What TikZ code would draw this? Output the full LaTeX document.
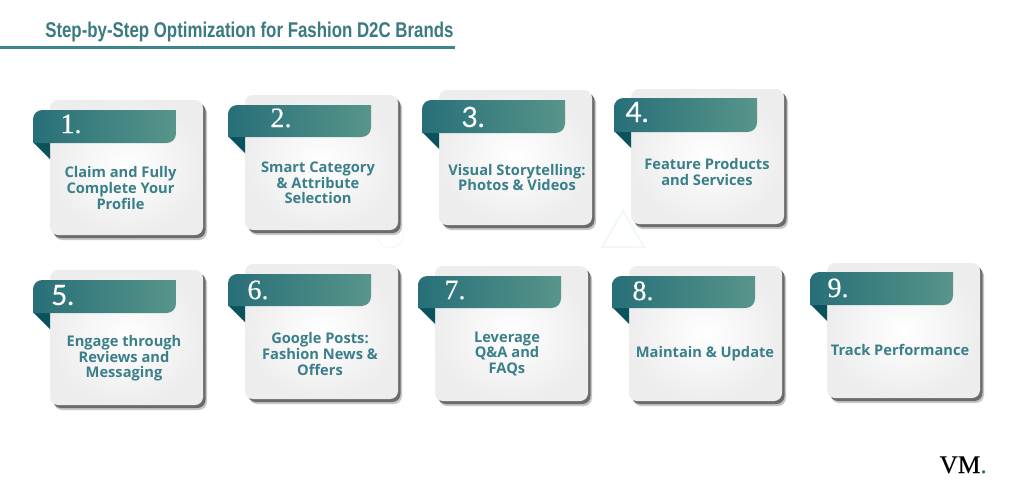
\documentclass[tikz,border=0pt]{standalone}
\usepackage{fontspec}
\setmainfont{Open Sans}
\newfontfamily\titlefont[FakeStretch=0.79]{Liberation Sans}
\newfontfamily\numfont[FakeBold=0.25]{Liberation Serif}
\newfontfamily\altnum[FakeBold=0.2]{Lato}
\newfontfamily\logofont[FakeBold=0.3]{Liberation Serif}
\definecolor{teal1}{HTML}{276F78}
\definecolor{teal2}{HTML}{58958A}
\definecolor{foldc}{HTML}{0B535C}
\definecolor{txtc}{HTML}{3A7F8A}
\definecolor{titlec}{HTML}{3A7A80}
\definecolor{rulec}{HTML}{3F858C}
\definecolor{faint}{HTML}{EEF8FB}
\tikzset{
  x=0.75pt,y=-0.75pt,
  cardbody/.style={rounded corners=6, inner color=white, outer color=black!7},
  shadowsoft/.style={rounded corners=6, fill=black!22},
  shadowhard/.style={rounded corners=6, fill=black!58},
  ribbon/.style={left color=teal1, right color=teal2},
  foldpart/.style={fill=foldc},
  steptext/.style={font=\fontsize{11}{11.7}\selectfont\bfseries, text=txtc, align=center, inner sep=0},
  stepnum/.style={font=\numfont\fontsize{21}{21}\selectfont, text=white, inner sep=0, anchor=base},
}
% #1 card x, #2 card y, #3 ribbon top, #4 ribbon bottom
\newcommand{\stepcard}[4]{%
  \fill[shadowsoft] (#1+4,#2+5) rectangle (#1+157,#2+140);
  \fill[shadowhard] (#1+3,#2+3) rectangle (#1+155.5,#2+138);
  \path[cardbody] (#1,#2) rectangle (#1+153,#2+135);
  \fill[foldpart] (#1-17,#4-1) -- (#1,#4-1) -- (#1,#4+16) -- cycle;
  \path[ribbon] (#1-17,#4) [rounded corners=7pt] -- (#1-17,#3) [sharp corners] -- (#1+126,#3)
     [rounded corners=7pt] -- (#1+126,#4) [sharp corners] -- cycle;
}
% #1 id, #2 num x, #3 num baseline, #4 num, #5 text x, #6 text y, #7 text
\newcommand{\steplabels}[7]{%
  \node[stepnum] (n#1) at (#2,#3) {#4};
  \node[steptext] (t#1) at (#5,#6) {#7};
}
\begin{document}
\begin{tikzpicture}
\useasboundingbox (0,0) rectangle (1024,500);
\fill[white] (0,0) rectangle (1024,500);
\node[font=\titlefont\bfseries\fontsize{16}{18}\selectfont, text=titlec, inner sep=0, anchor=base west] (title) at (45,37.5) {Step-by-Step Optimization for Fashion D2C Brands};
\coordinate (ruleL) at (0,47.5);
\coordinate (ruleR) at (455,47.5);
\draw[rulec, line width=1.6pt] (ruleL) -- (ruleR);
\draw[faint, line width=1.4pt] (623,211) -- (644,247) -- (602,247) -- cycle;
\draw[black!4, line width=0.6pt] (390,235) circle[radius=13];
\stepcard{50}{100}{110}{143}
\stepcard{245}{95}{105}{137}
\stepcard{439}{90}{100}{133}
\stepcard{631}{89}{98}{132}
\stepcard{50}{270}{280}{313}
\stepcard{245}{264}{274}{306}
\stepcard{435}{266}{276}{308}
\stepcard{629}{266}{276}{308}
\stepcard{827}{263}{272}{305}
\steplabels{a}{71}{133}{1.}{120.5}{188}{Claim and Fully\\Complete Your\\Profile}
\steplabels{b}{281}{127}{2.}{318}{183}{Smart Category\\\& Attribute\\Selection}
\steplabels{c}{473}{127}{\altnum 3.}{517}{177.5}{Visual Storytelling:\\Photos \& Videos}
\steplabels{d}{637}{122}{\altnum 4.}{707}{172}{Feature Products\\and Services}
\steplabels{e}{62.5}{305}{\altnum 5.}{124}{358.5}{Engage through\\Reviews and\\Messaging}
\steplabels{f}{258}{299}{6.}{320}{354}{Google Posts:\\Fashion News \&\\Offers}
\steplabels{g}{455}{299}{7.}{507}{354}{Leverage\\Q\&A and\\FAQs}
\steplabels{h}{643}{300}{8.}{705}{354}{Maintain \& Update}
\steplabels{i}{838}{297}{9.}{900}{350}{Track Performance}
\node[font=\logofont\fontsize{19}{19}\selectfont, inner sep=0, anchor=base east] (logo) at (987,473) {VM\textcolor{teal1}{.}};
\end{tikzpicture}
\end{document}
